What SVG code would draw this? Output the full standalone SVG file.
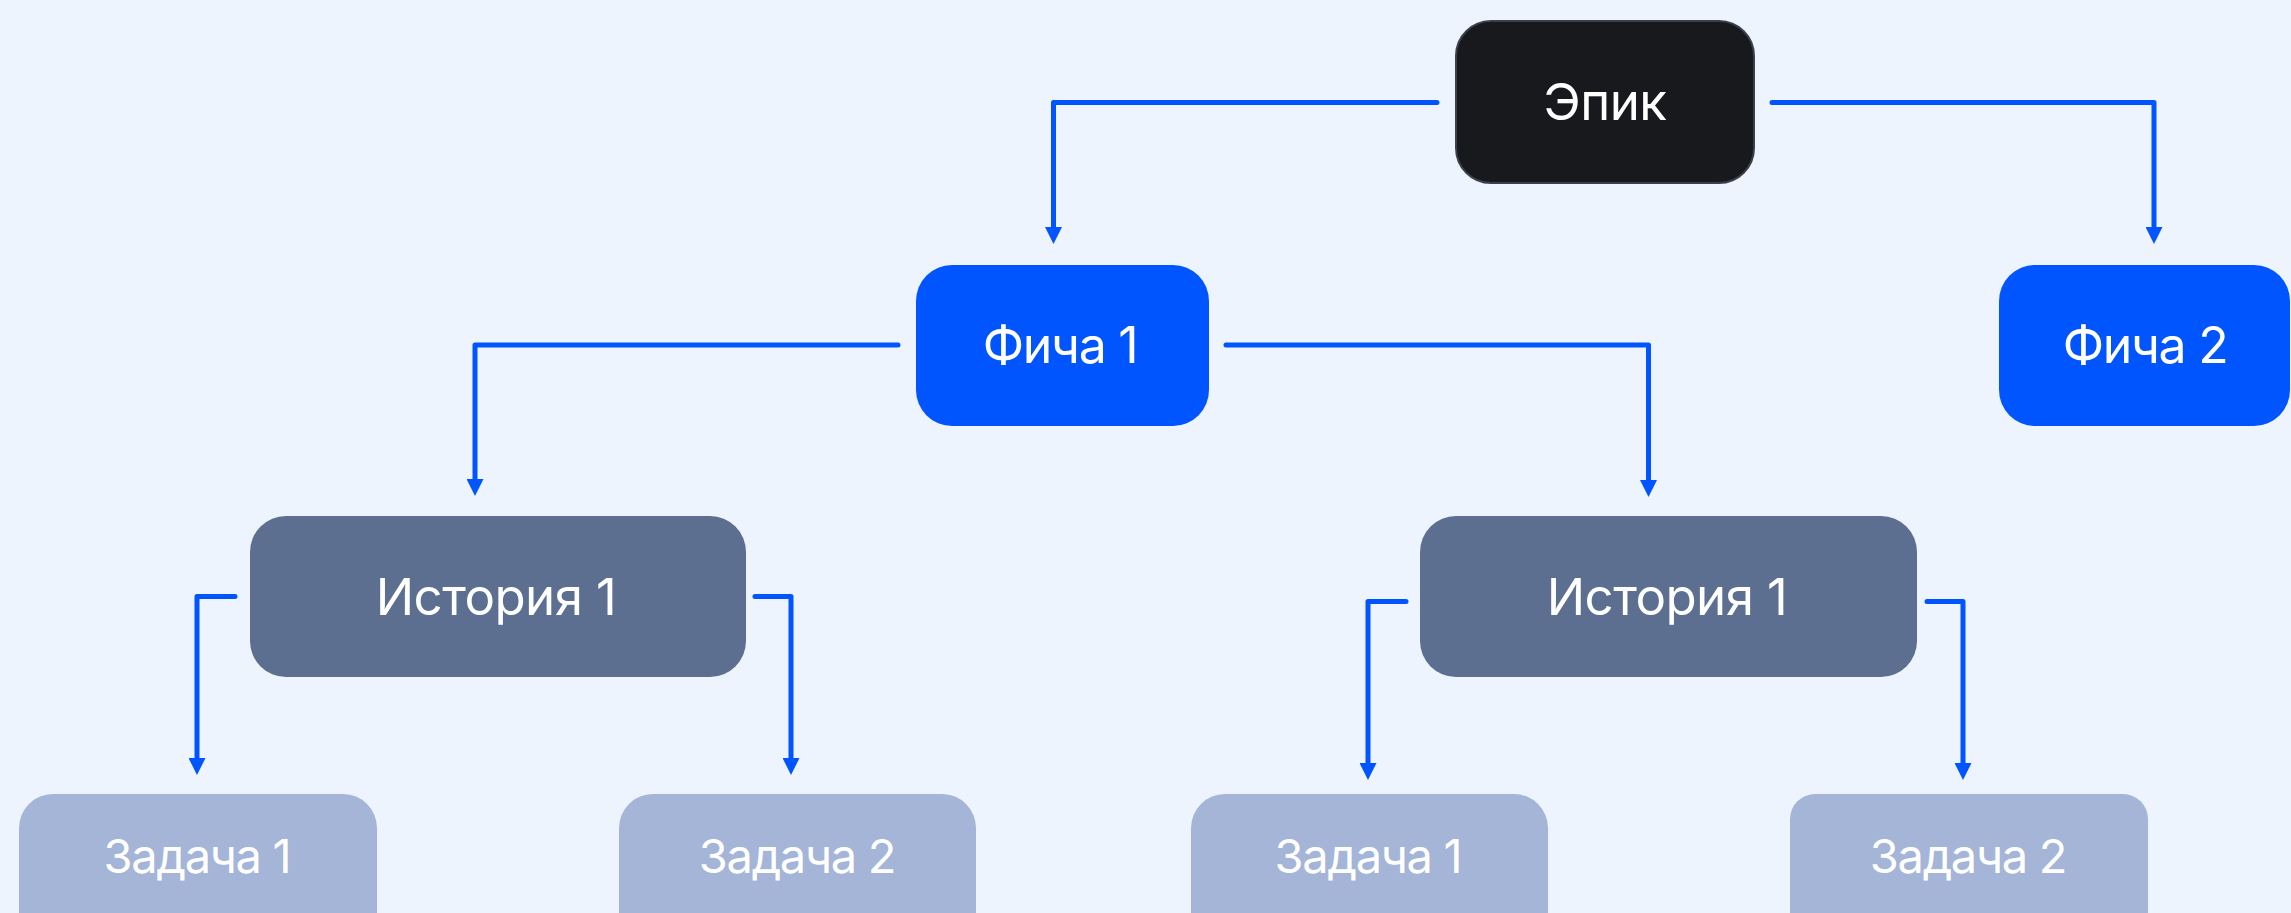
<svg xmlns="http://www.w3.org/2000/svg" width="2291" height="913" viewBox="0 0 2291 913">
<style>
.bg{fill:#EDF4FE}
.epic{fill:#17191C;stroke:#3A404C;stroke-width:2}
.feat{fill:#0055FF}
.story{fill:#5C6F91}
.task{fill:#A4B5D8}
.lbl{font-family:Inter,"Noto Sans","Liberation Sans",sans-serif;fill:#FFFFFF;text-anchor:middle}
.l-epic{font-size:51px;letter-spacing:-0.5px}
.l-feat{font-size:50px;letter-spacing:-1.3px}
.l-story{font-size:51px;letter-spacing:-0.6px}
.l-task{font-size:47px;letter-spacing:-1.3px}
.conn{fill:none;stroke:#0055FF;stroke-width:5;stroke-linecap:round;stroke-linejoin:round}
</style>
<defs>
<marker id="arr" viewBox="0 0 17 17" refX="0" refY="8.5" markerWidth="17" markerHeight="17" markerUnits="userSpaceOnUse" orient="auto">
<path d="M0,0 L17,8.5 L0,17 z" fill="#0055FF"/>
</marker>
</defs>
<rect class="bg" x="0" y="0" width="2291" height="913"/>
<g id="connectors">
<path class="conn" d="M1437,102.5 H1053.5 V227" marker-end="url(#arr)"/>
<path class="conn" d="M1772,102.5 H2154 V227" marker-end="url(#arr)"/>
<path class="conn" d="M898,345 H475 V479" marker-end="url(#arr)"/>
<path class="conn" d="M1226,345 H1648.5 V480" marker-end="url(#arr)"/>
<path class="conn" d="M235,596.5 H197 V758" marker-end="url(#arr)"/>
<path class="conn" d="M755,596.5 H791 V758" marker-end="url(#arr)"/>
<path class="conn" d="M1406,601.5 H1368 V763" marker-end="url(#arr)"/>
<path class="conn" d="M1927,601.5 H1963 V763" marker-end="url(#arr)"/>
</g>
<g id="epic">
<rect class="epic" x="1456" y="21" width="298" height="162" rx="35"/>
<text class="lbl l-epic" x="1605" y="120">Эпик</text>
</g>
<g id="feature1">
<rect class="feat" x="916" y="265" width="293" height="161" rx="36"/>
<text class="lbl l-feat" x="1060" y="363">Фича 1</text>
</g>
<g id="feature2">
<rect class="feat" x="1999" y="265" width="291" height="161" rx="36"/>
<text class="lbl l-feat" x="2145" y="363">Фича 2</text>
</g>
<g id="story1">
<rect class="story" x="250" y="516" width="496" height="161" rx="36"/>
<text class="lbl l-story" x="496" y="615">История 1</text>
</g>
<g id="story2">
<rect class="story" x="1420" y="516" width="497" height="161" rx="36"/>
<text class="lbl l-story" x="1667" y="615">История 1</text>
</g>
<g id="task1">
<rect class="task" x="19" y="794" width="358" height="161" rx="34"/>
<text class="lbl l-task" x="197" y="873">Задача 1</text>
</g>
<g id="task2">
<rect class="task" x="619" y="794" width="357" height="161" rx="34"/>
<text class="lbl l-task" x="797" y="873">Задача 2</text>
</g>
<g id="task3">
<rect class="task" x="1191" y="794" width="357" height="161" rx="34"/>
<text class="lbl l-task" x="1368" y="873">Задача 1</text>
</g>
<g id="task4">
<rect class="task" x="1790" y="794" width="358" height="161" rx="25"/>
<text class="lbl l-task" x="1968" y="873">Задача 2</text>
</g>
</svg>
